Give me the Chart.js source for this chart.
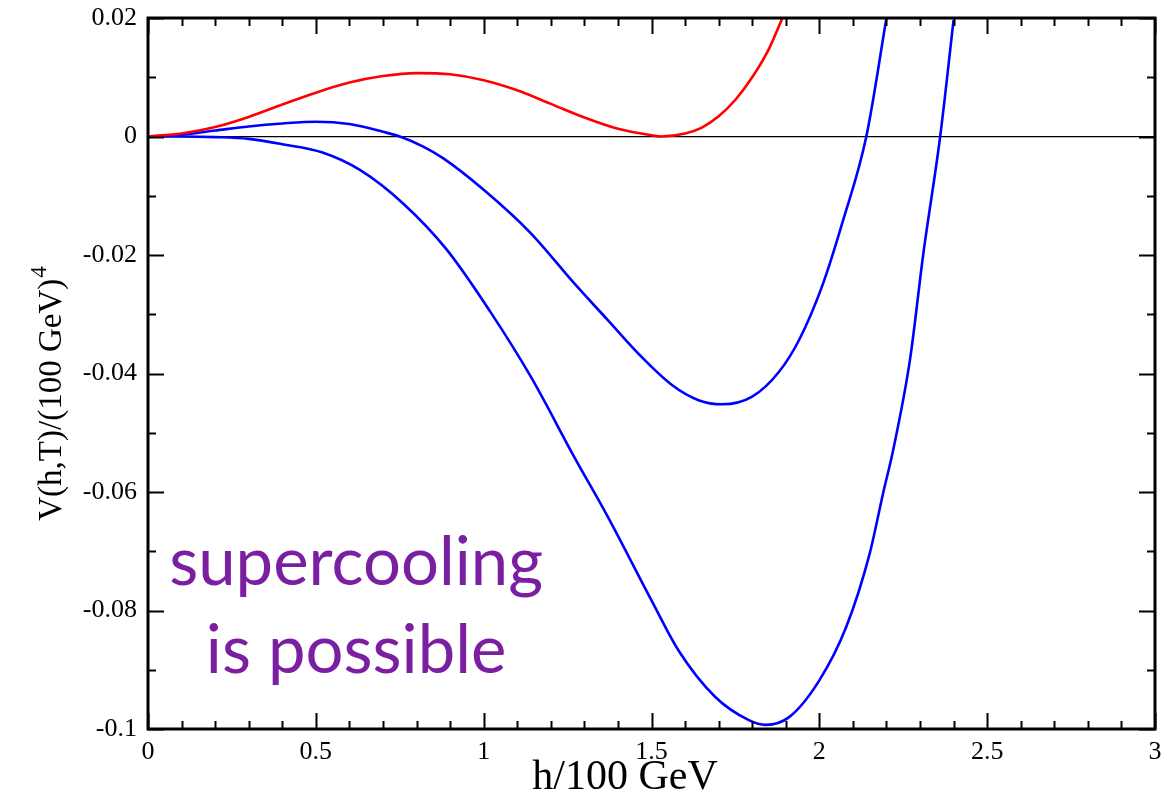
<!DOCTYPE html>
<html>
<head>
<meta charset="utf-8">
<title>V(h,T)</title>
<script src="https://cdn.jsdelivr.net/npm/chart.js@4.4.0/dist/chart.umd.min.js"></script>
<style>
  html, body { margin: 0; padding: 0; background: #fff; }
</style>
</head>
<body>
<canvas id="potential" width="1175" height="797"></canvas>
<script>
// Effektives Potential V(h,T) für drei Temperaturen (h in 100 GeV)
const hRed = [0, 0.1, 0.2, 0.3, 0.4, 0.5, 0.6, 0.7, 0.8, 0.9, 1.0, 1.1, 1.2, 1.3, 1.4, 1.5, 1.53, 1.6, 1.65, 1.7, 1.75, 1.8, 1.85, 1.89];
const vRed = [0, 0.0005, 0.0016, 0.0033, 0.0054, 0.0074, 0.0091, 0.0102, 0.0107, 0.0105, 0.0095, 0.0078, 0.0055, 0.0032, 0.0013, 0.0002, 0, 0.0005, 0.0015, 0.0034, 0.0062, 0.0100, 0.0148, 0.0200];

const hUpper = [0, 0.1, 0.2, 0.3, 0.4, 0.5, 0.6, 0.7, 0.75, 0.82, 0.88, 1.0, 1.14, 1.27, 1.37, 1.46, 1.56, 1.64, 1.71, 1.80, 1.88, 1.94, 2.01, 2.07, 2.14, 2.20];
const vUpper = [0, 0.0003, 0.0010, 0.0017, 0.0022, 0.0025, 0.0021, 0.0008, 0, -0.0017, -0.0037, -0.0090, -0.0163, -0.0248, -0.0310, -0.0366, -0.0419, -0.0445, -0.0452, -0.0439, -0.0397, -0.0343, -0.0250, -0.0143, 0, 0.0200];

const hLower = [0, 0.1, 0.2, 0.3, 0.4, 0.52, 0.63, 0.76, 0.89, 1.02, 1.14, 1.27, 1.37, 1.50, 1.58, 1.69, 1.79, 1.84, 1.91, 2.00, 2.08, 2.15, 2.19, 2.22, 2.27, 2.31, 2.36, 2.40];
const vLower = [0, 0, -0.0001, -0.0004, -0.0013, -0.0027, -0.0056, -0.0113, -0.0191, -0.0296, -0.0405, -0.0541, -0.0642, -0.0783, -0.0867, -0.0946, -0.0985, -0.0993, -0.0980, -0.0918, -0.0828, -0.0704, -0.0602, -0.0529, -0.0377, -0.0197, 0, 0.0197];

const xTicks = [0, 0.5, 1, 1.5, 2, 2.5, 3];
const yTicks = [0.02, 0, -0.02, -0.04, -0.06, -0.08, -0.1];

const xTitle = 'h/100 GeV';
const yTitle = 'V(h,T)/(100 GeV)';
const yTitleSup = '4';
const noteLines = ['supercooling', 'is possible'];

const serif = '"Liberation Serif", "Times New Roman", serif';
const toPoints = (xs, ys) => xs.map((x, i) => ({ x, y: ys[i] }));

// Rahmen mit innenliegenden Ticks, Achsentitel und Beschriftung
const framePlugin = {
  id: 'frame',
  afterDatasetsDraw(chart) {
    const { ctx, chartArea: a, scales: { x, y } } = chart;
    ctx.save();
    ctx.strokeStyle = '#000';
    ctx.lineWidth = 2;
    ctx.beginPath();
    for (let i = 0; i <= 30; i++) {
      const px = Math.round(x.getPixelForValue(i / 10)) + 0.5;
      const len = i % 5 === 0 ? 16 : 8;
      ctx.moveTo(px, a.bottom); ctx.lineTo(px, a.bottom - len);
      ctx.moveTo(px, a.top); ctx.lineTo(px, a.top + len);
    }
    for (let j = -10; j <= 2; j++) {
      const py = Math.round(y.getPixelForValue(j / 100)) + 0.5;
      const len = j % 2 === 0 ? 16 : 8;
      ctx.moveTo(a.left, py); ctx.lineTo(a.left + len, py);
      ctx.moveTo(a.right, py); ctx.lineTo(a.right - len, py);
    }
    ctx.stroke();

    ctx.lineWidth = 3;
    ctx.strokeRect(a.left, a.top, a.right - a.left, a.bottom - a.top);

    // Achsentitel
    ctx.fillStyle = '#000';
    ctx.font = '42px ' + serif;
    ctx.textAlign = 'center';
    ctx.textBaseline = 'alphabetic';
    ctx.fillText(xTitle, 625, 789);

    ctx.save();
    ctx.translate(61, 394);
    ctx.rotate(-Math.PI / 2);
    ctx.font = '33px ' + serif;
    const w = ctx.measureText(yTitle).width;
    ctx.font = '23px ' + serif;
    const ws = ctx.measureText(yTitleSup).width;
    const start = -(w + ws) / 2;
    ctx.textAlign = 'left';
    ctx.font = '33px ' + serif;
    ctx.fillText(yTitle, start, 0);
    ctx.font = '23px ' + serif;
    ctx.fillText(yTitleSup, start + w + 1, -15);
    ctx.restore();

    // Hinweis im Diagramm
    ctx.fillStyle = '#7b1fa2';
    ctx.font = '67px Lato, "DejaVu Sans", sans-serif';
    ctx.textAlign = 'center';
    const cx = x.getPixelForValue(0.62);
    ctx.fillText(noteLines[0], cx, y.getPixelForValue(-0.0757));
    ctx.fillText(noteLines[1], cx, y.getPixelForValue(-0.0905));
    ctx.restore();
  }
};

const lineStyle = (color) => ({
  borderColor: color,
  borderWidth: 2.6,
  pointRadius: 0,
  cubicInterpolationMode: 'monotone'
});

new Chart(document.getElementById('potential'), {
  type: 'line',
  data: {
    datasets: [
      { label: 'T1', data: toPoints(hRed, vRed), ...lineStyle('#ff0000') },
      { label: 'T2', data: toPoints(hUpper, vUpper), ...lineStyle('#0000ff') },
      { label: 'T3', data: toPoints(hLower, vLower), ...lineStyle('#0000ff') }
    ]
  },
  options: {
    responsive: false,
    animation: false,
    devicePixelRatio: 1,
    layout: { padding: { top: 18, right: 20, left: 0, bottom: 0 } },
    plugins: {
      legend: { display: false },
      tooltip: { enabled: false }
    },
    scales: {
      x: {
        type: 'linear',
        min: 0,
        max: 3,
        afterFit: (s) => { s.height = 68; s.paddingLeft = 0; s.paddingRight = 0; },
        afterBuildTicks: (s) => { s.ticks = xTicks.map(v => ({ value: v })); },
        grid: { display: false, drawTicks: false },
        border: { display: false },
        ticks: {
          color: '#000',
          font: { family: serif, size: 26 },
          padding: 8,
          maxRotation: 0,
          callback: (v) => String(v)
        }
      },
      y: {
        type: 'linear',
        min: -0.1,
        max: 0.02,
        afterFit: (s) => { s.width = 148; s.paddingTop = 0; s.paddingBottom = 0; },
        afterBuildTicks: (s) => { s.ticks = yTicks.map(v => ({ value: v })); },
        grid: {
          drawTicks: false,
          lineWidth: 1.3,
          color: (c) => Math.abs(c.tick.value) < 1e-9 ? '#000' : 'rgba(0,0,0,0)'
        },
        border: { display: false },
        ticks: {
          color: '#000',
          font: { family: serif, size: 26 },
          padding: 11,
          callback: (v) => String(Math.round(v * 100) / 100)
        }
      }
    }
  },
  plugins: [framePlugin]
});
</script>
</body>
</html>
